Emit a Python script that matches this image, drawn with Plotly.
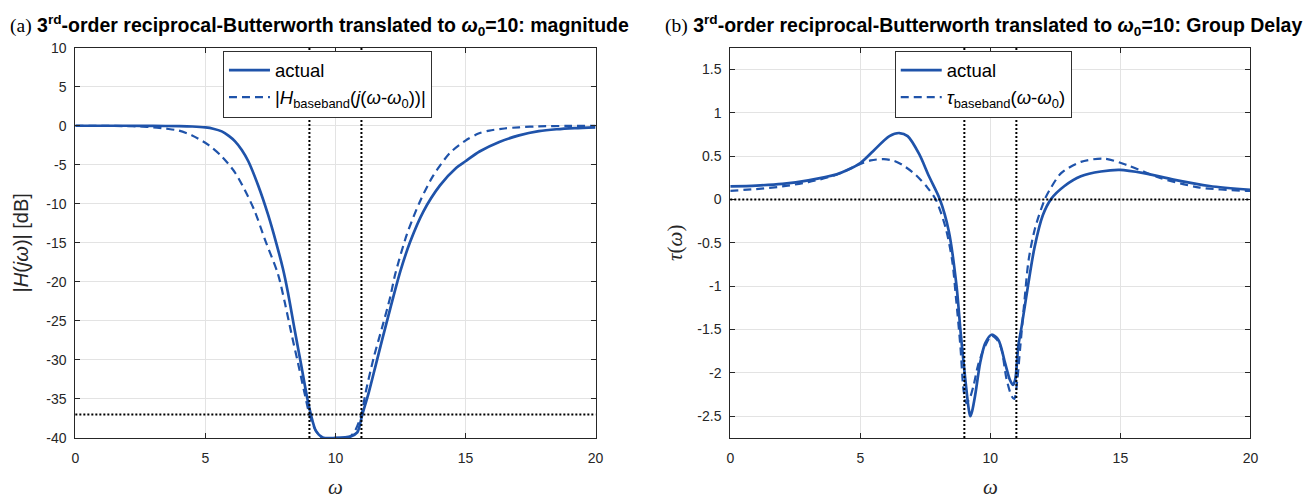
import plotly.graph_objects as go

# ---------------- data ----------------
# (a) magnitude, dB
mag_actual_w = [0, 1, 2, 3, 4, 4.5, 5, 5.3, 5.63, 5.9, 6.14, 6.4, 6.65, 7.03, 7.41, 7.73, 7.98,
                8.17, 8.43, 8.68, 8.91, 9.06, 9.25, 9.51, 10.0, 10.59, 10.84, 11.03, 11.28,
                11.54, 11.79, 12.11, 12.5, 12.87, 13.38, 14.02, 14.65, 15.0, 15.54, 16.3,
                17.06, 17.82, 18.5, 19.2, 20]
mag_actual_db = [0, 0, 0, -0.02, -0.05, -0.1, -0.22, -0.38, -0.72, -1.3, -2.0, -3.1, -4.55,
                 -7.66, -11.4, -15.1, -18.3, -21.3, -26.1, -30.6, -34.8, -37.05, -39.1,
                 -39.95, -40, -39.8, -39.3, -37.05, -34.2, -30.8, -27.5, -23.4, -18.6, -14.9,
                 -11.0, -7.65, -5.38, -4.55, -3.3, -2.07, -1.24, -0.7, -0.45, -0.3, -0.2]

mag_base_w = [0, 1, 2, 2.5, 3, 3.5, 3.98, 4.49, 5.13, 5.63, 6.14, 6.52, 6.9, 7.28, 7.79, 8.05,
              8.3, 8.56, 8.81, 9.0, 9.25, 9.5, 10, 10.5, 10.75, 11.0, 11.16, 11.48, 11.79,
              12.11, 12.3, 12.75, 13.25, 13.76, 14.4, 15.0, 15.5, 15.92, 16.5, 17.06, 17.82,
              19, 20]
mag_base_db = [0, -0.01, -0.05, -0.1, -0.2, -0.38, -0.62, -1.24, -2.48, -3.93, -6.0, -8.27,
               -10.97, -14.5, -19.0, -22.6, -26.5, -30.4, -34.2, -37, -39.1, -40, -40, -40,
               -39.1, -37, -34.2, -29.6, -25.9, -21.9, -19.0, -13.9, -9.7, -6.4, -3.5, -1.9,
               -1.0, -0.62, -0.35, -0.2, -0.08, -0.02, 0]

# (b) group delay
gd_actual_w = [0, 1, 2, 3, 4.09, 4.5, 5.0, 5.5, 6.12, 6.5, 6.82, 7.26, 7.64, 8.06, 8.4, 8.7,
               8.85, 8.97, 9.1, 9.18, 9.23, 9.3, 9.42, 9.61, 9.8, 10.05, 10.31, 10.56, 10.75,
               10.87, 10.96, 11.07, 11.2, 11.45, 11.7, 12.02, 12.34, 12.85, 13.48, 14.25, 14.98,
               15.9, 17.04, 18.43, 20]
gd_actual = [0.15, 0.16, 0.18, 0.22, 0.29, 0.34, 0.42, 0.56, 0.73, 0.766, 0.73, 0.525, 0.267,
             0, -0.363, -1.0, -1.51, -1.88, -2.25, -2.44, -2.5, -2.44, -2.25, -1.88, -1.66,
             -1.56, -1.62, -1.88, -2.08, -2.14, -2.07, -1.7, -1.47, -0.99, -0.55, -0.18, 0.007,
             0.155, 0.267, 0.322, 0.34, 0.303, 0.229, 0.155, 0.11]

gd_base_w = [0, 1, 2, 3, 4.09, 5.0, 5.4, 5.9, 6.3, 6.63, 7.13, 7.58, 7.9, 8.28, 8.53, 8.68,
             8.85, 8.97, 9.08, 9.2, 9.36, 9.52, 9.74, 10.05, 10.26, 10.43, 10.62, 10.82, 10.92,
             11.03, 11.15, 11.32, 11.47, 11.72, 12.09, 12.3, 12.72, 13.48, 14.37, 15.26, 16.53,
             18.05, 19.83, 20]
gd_base = [0.1, 0.12, 0.15, 0.2, 0.285, 0.41, 0.45, 0.465, 0.445, 0.396, 0.284, 0.137, 0,
           -0.326, -0.7, -1.14, -1.7, -2.2, -2.35, -2.3, -2.14, -1.92, -1.73, -1.57, -1.62,
           -1.73, -2.07, -2.27, -2.3, -2.1, -1.7, -1.14, -0.7, -0.33, 0, 0.12, 0.303, 0.433,
           0.47, 0.396, 0.248, 0.137, 0.1, 0.1]

band_edges = [9, 11]          # vertical dotted markers
mag_ref_level = -37           # horizontal dotted marker in (a)
gd_ref_level = 0              # horizontal dotted marker in (b)

x_ticks = [0, 5, 10, 15, 20]
mag_ticks = [-40, -35, -30, -25, -20, -15, -10, -5, 0, 5, 10]
gd_ticks = [-2.5, -2, -1.5, -1, -0.5, 0, 0.5, 1, 1.5]

# ---------------- styling ----------------
W, H = 1307, 504
BLUE = "#1f53aa"
TXT = "#262626"
GRID = "#e3e3e3"
SANS = "Liberation Sans, Arial, sans-serif"
SERIF = "Liberation Serif, Times New Roman, serif"

fig = go.Figure()

solid = dict(color=BLUE, width=2.7, shape="spline", smoothing=0.8)
dashed = dict(color=BLUE, width=2.2, dash="8px,5px", shape="spline", smoothing=0.8)

fig.add_trace(go.Scatter(x=mag_actual_w, y=mag_actual_db, mode="lines", name="actual",
                         line=solid, xaxis="x", yaxis="y", legend="legend"))
fig.add_trace(go.Scatter(x=mag_base_w, y=mag_base_db, mode="lines",
                         name="|<i>H</i><sub>baseband</sub>(<i>j</i>(<i>ω</i>-<i>ω</i><sub>0</sub>))|",
                         line=dashed, xaxis="x", yaxis="y", legend="legend"))
fig.add_trace(go.Scatter(x=gd_actual_w, y=gd_actual, mode="lines", name="actual",
                         line=solid, xaxis="x2", yaxis="y2", legend="legend2"))
fig.add_trace(go.Scatter(x=gd_base_w, y=gd_base, mode="lines",
                         name="<i>τ</i><sub>baseband</sub>(<i>ω</i>-<i>ω</i><sub>0</sub>)",
                         line=dashed, xaxis="x2", yaxis="y2", legend="legend2"))

# dotted reference lines
DOT = dict(color="black", width=2, dash="2px,2px")
shapes = []
for xr, yr in (("x", "y"), ("x2", "y2")):
    for e in band_edges:
        shapes.append(dict(type="line", xref=xr, yref=yr + " domain", x0=e, x1=e, y0=0, y1=1,
                           line=DOT, layer="above"))
shapes.append(dict(type="line", xref="x domain", yref="y", x0=0, x1=1, y0=mag_ref_level,
                   y1=mag_ref_level, line=DOT, layer="above"))
shapes.append(dict(type="line", xref="x2 domain", yref="y2", x0=0, x1=1, y0=gd_ref_level,
                   y1=gd_ref_level, line=DOT, layer="above"))

x1d = [72 / W, 597 / W]
x2d = [733 / W, 1258 / W]
yd = [1 - 444 / H, 1 - 41 / H]

axis_common = dict(showline=True, linecolor=TXT, linewidth=1, mirror="allticks",
                   ticks="inside", ticklen=5, tickcolor=TXT, showgrid=True, gridcolor=GRID,
                   gridwidth=1, zeroline=False, tickfont=dict(family=SANS, size=14, color=TXT))

fig.update_layout(
    width=W, height=H, margin=dict(l=0, r=0, t=0, b=0),
    paper_bgcolor="white", plot_bgcolor="white",
    xaxis=dict(domain=x1d, range=[0, 20], tickvals=x_ticks, ticktext=[f"{v:g}" for v in x_ticks],
               anchor="y", ticklabelstandoff=7,
               title=dict(text="<i>ω</i>", font=dict(family=SERIF, size=21, color=TXT), standoff=14),
               **axis_common),
    yaxis=dict(domain=yd, range=[-40, 10], tickvals=mag_ticks, ticktext=[f"{v:g}" for v in mag_ticks],
               anchor="x", ticklabelstandoff=5,
               title=dict(text="|<i>H</i>(<i>jω</i>)| [dB]", font=dict(family=SANS, size=20, color=TXT), standoff=12),
               **axis_common),
    xaxis2=dict(domain=x2d, range=[0, 20], tickvals=x_ticks, ticktext=[f"{v:g}" for v in x_ticks],
                anchor="y2", ticklabelstandoff=7,
                title=dict(text="<i>ω</i>", font=dict(family=SERIF, size=21, color=TXT), standoff=14),
                **axis_common),
    yaxis2=dict(domain=yd, range=[-2.75, 1.75], tickvals=gd_ticks, ticktext=[f"{v:g}" for v in gd_ticks],
                anchor="x2", ticklabelstandoff=5,
                title=dict(text="<i>τ</i>(<i>ω</i>)", font=dict(family=SERIF, size=21, color=TXT), standoff=8),
                **axis_common),
    shapes=shapes,
    legend=dict(x=221 / W, y=1 - 44 / H, xanchor="left", yanchor="top", bgcolor="white",
                bordercolor="#303030", borderwidth=1, font=dict(family=SANS, size=18.5, color="black"),
                tracegroupgap=0, itemwidth=41),
    legend2=dict(x=899 / W, y=1 - 44 / H, xanchor="left", yanchor="top", bgcolor="white",
                 bordercolor="#303030", borderwidth=1, font=dict(family=SANS, size=18.5, color="black"),
                 tracegroupgap=0, itemwidth=41),
    annotations=[
        dict(xref="paper", yref="paper", x=4 / W, y=1 - 18 / H, xanchor="left", yanchor="middle",
             showarrow=False,
             text="<span style='font-family:Liberation Serif;font-weight:normal'>(a)</span> <b>3<sup>rd</sup>-order reciprocal-Butterworth translated to <i>ω</i><sub>0</sub>=10: magnitude</b>",
             font=dict(family=SANS, size=19.5, color="black")),
        dict(xref="paper", yref="paper", x=665 / W, y=1 - 18 / H, xanchor="left", yanchor="middle",
             showarrow=False,
             text="<span style='font-family:Liberation Serif;font-weight:normal'>(b)</span> <b>3<sup>rd</sup>-order reciprocal-Butterworth translated to <i>ω</i><sub>0</sub>=10: Group Delay</b>",
             font=dict(family=SANS, size=19.5, color="black")),
    ],
)

fig.write_html("out.html")
